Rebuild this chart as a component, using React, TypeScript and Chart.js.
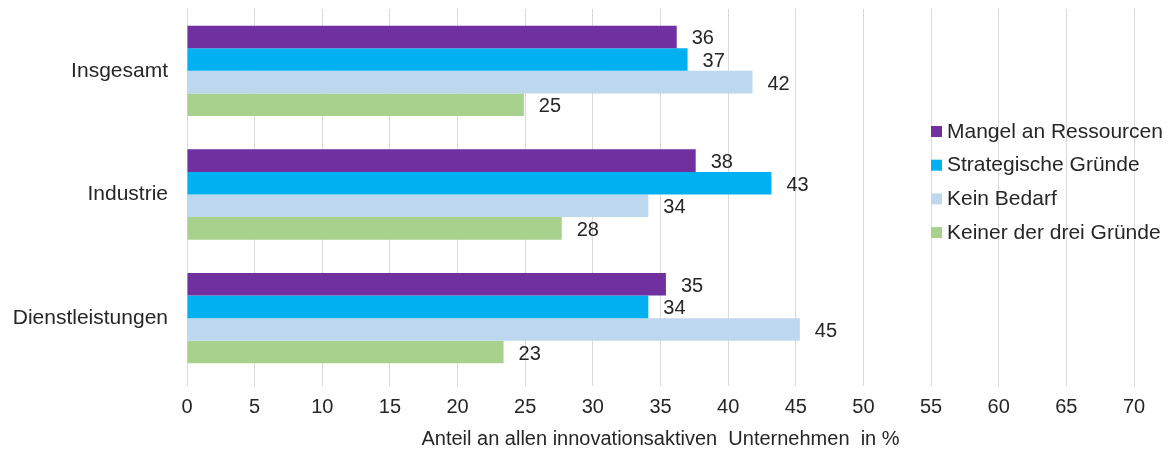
import React, { useEffect, useRef } from "react";
import { Chart, registerables } from "chart.js";

Chart.register(...registerables);

const categories = ["Insgesamt", "Industrie", "Dienstleistungen"];
const seriesNames = [
  "Mangel an Ressourcen",
  "Strategische Gründe",
  "Kein Bedarf",
  "Keiner der drei Gründe",
];
const seriesColors = ["#7030A0", "#00B0F0", "#BDD7EE", "#A9D18E"];

const mangelValues = [36.2, 37.6, 35.4];
const strategischValues = [37.0, 43.2, 34.1];
const bedarfValues = [41.8, 34.1, 45.3];
const keinerValues = [24.9, 27.7, 23.4];

const mangelLabels = ["36", "38", "35"];
const strategischLabels = ["37", "43", "34"];
const bedarfLabels = ["42", "34", "45"];
const keinerLabels = ["25", "28", "23"];

const xTickMin = 0;
const xTickMax = 70;
const xTickStep = 5;
const xTitle = "Anteil an allen innovationsaktiven  Unternehmen  in %";

const FONT = "'Liberation Sans', Arial, sans-serif";
const TEXT = "#262626";

export default function App() {
  const ref = useRef<HTMLCanvasElement | null>(null);

  useEffect(() => {
    document.body.style.margin = "0";
    const canvas = ref.current;
    if (!canvas) return;

    const values = [mangelValues, strategischValues, bedarfValues, keinerValues];
    const labels = [mangelLabels, strategischLabels, bedarfLabels, keinerLabels];

    const labelPlugin = {
      id: "barLabels",
      afterDatasetsDraw(chart: any) {
        const ctx = chart.ctx;
        ctx.save();
        ctx.font = `20px ${FONT}`;
        ctx.fillStyle = TEXT;
        ctx.textAlign = "left";
        ctx.textBaseline = "middle";
        chart.data.datasets.forEach((_ds: any, i: number) => {
          const meta = chart.getDatasetMeta(i);
          meta.data.forEach((el: any, j: number) => {
            ctx.fillText(labels[i][j], el.x + 15, el.y + 2);
          });
        });
        ctx.restore();
      },
    };

    const legendPlugin = {
      id: "customLegend",
      afterDraw(chart: any) {
        const ctx = chart.ctx;
        ctx.save();
        ctx.font = `21px ${FONT}`;
        ctx.textAlign = "left";
        ctx.textBaseline = "middle";
        const x0 = 931;
        const y0 = 131;
        const step = 33.7;
        seriesNames.forEach((name, i) => {
          const y = y0 + i * step;
          ctx.fillStyle = seriesColors[i];
          ctx.fillRect(x0, y - 5, 11, 11);
          ctx.fillStyle = TEXT;
          ctx.fillText(name, x0 + 16, y + 1);
        });
        ctx.restore();
      },
    };

    const chart = new Chart(canvas, {
      type: "bar",
      data: {
        labels: categories,
        datasets: seriesNames.map((name, i) => ({
          label: name,
          data: values[i],
          backgroundColor: seriesColors[i],
          borderWidth: 0,
          barPercentage: 1,
          categoryPercentage: 0.73,
        })),
      },
      options: {
        indexAxis: "y",
        responsive: false,
        maintainAspectRatio: false,
        animation: false,
        layout: { padding: { top: 9, right: 41, bottom: 0, left: 0 } },
        plugins: {
          legend: { display: false },
          tooltip: { enabled: false },
        },
        scales: {
          x: {
            min: xTickMin,
            max: xTickMax,
            ticks: {
              stepSize: xTickStep,
              color: TEXT,
              font: { family: FONT, size: 20 },
              padding: 9,
              maxRotation: 0,
            },
            grid: {
              color: "#D9D9D9",
              lineWidth: 1,
              drawTicks: true,
              tickLength: 6,
            },
            border: { display: false },
            title: {
              display: true,
              text: xTitle,
              color: TEXT,
              font: { family: FONT, size: 20 },
              padding: { top: 0, bottom: 3 },
            },
            afterFit(scale: any) {
              scale.height = 74;
            },
          },
          y: {
            ticks: {
              color: TEXT,
              font: { family: FONT, size: 21 },
              padding: 19,
            },
            grid: { display: false, drawTicks: false },
            border: { display: false },
            afterFit(scale: any) {
              scale.width = 187;
              scale.paddingTop = 0;
              scale.paddingBottom = 0;
            },
          },
        },
      },
      plugins: [labelPlugin, legendPlugin],
    } as any);

    return () => chart.destroy();
  }, []);

  return (
    <div style={{ width: 1175, height: 454 }}>
      <canvas ref={ref} width={1175} height={454} style={{ width: 1175, height: 454 }} />
    </div>
  );
}
